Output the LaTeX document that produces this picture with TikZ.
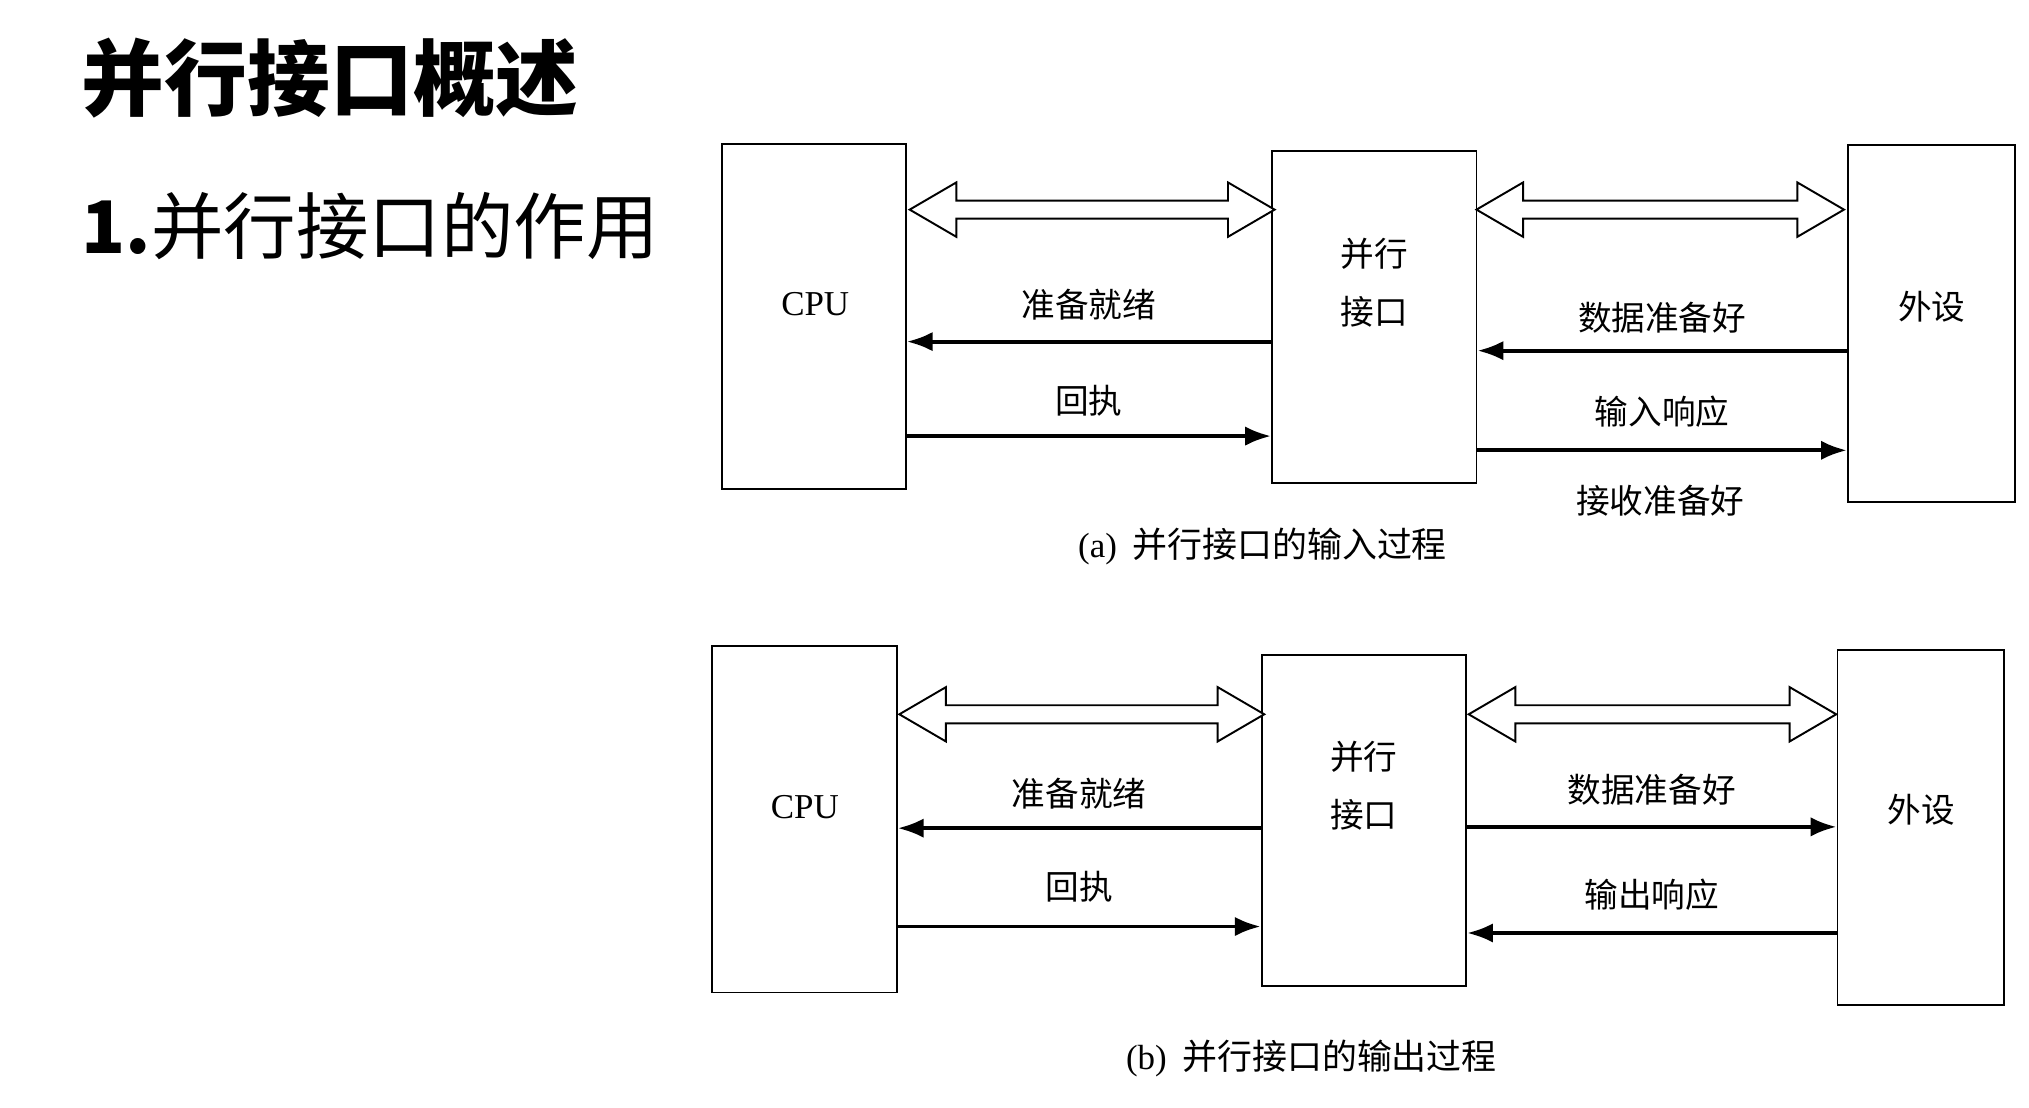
\documentclass[tikz,border=0pt]{standalone}
\usepackage{fontspec}
\setmainfont{Liberation Serif}
\newfontfamily\cjk{Noto Sans CJK SC}
\usetikzlibrary{arrows.meta,positioning}
\begin{document}
\begin{tikzpicture}[x=1pt,y=-1pt,
  box/.style={draw,line width=1.5pt,inner sep=0pt},
  lbl/.style={font=\cjk\fontsize{26}{30}\selectfont,inner sep=0pt},
  sig/.style={line width=3pt,-{Latex[length=20pt,width=15pt]}},
  captxt/.style={font=\fontsize{27}{30}\selectfont,inner sep=0pt}]
\useasboundingbox (0,0) rectangle (1568,856);
% hollow double arrow: x1, x2, y
\newcommand\busarrow[3]{%
  \draw[line width=1.5pt,fill=white] (#1,#3) -- (#1+36,#3-21) -- (#1+36,#3-7) -- (#2-36,#3-7)
    -- (#2-36,#3-21) -- (#2,#3) -- (#2-36,#3+21) -- (#2-36,#3+7) -- (#1+36,#3+7)
    -- (#1+36,#3+21) -- cycle;}
% heading
\node[anchor=west,inner sep=0pt,font=\cjk\bfseries\fontsize{64}{70}\selectfont] (title) at (63,60) {并行接口概述};
\node[anchor=west,inner sep=0pt,font=\cjk\fontsize{56}{62}\selectfont] (sub) at (63,175) {\textbf{1.}并行接口的作用};
% (a) input
\node[box,minimum width=142,minimum height=267] (cpua) at (629,244.5) {};
\node[box,minimum width=158,minimum height=256] (ifa) at (1062,245) {};
\node[box,minimum width=129,minimum height=276] (pera) at (1492.5,250) {};
\node[captxt] at (630,235) {CPU};
\node[lbl] at (1062,196) {并行};
\node[lbl] at (1062,241) {接口};
\node[lbl] at (1493,237) {外设};
\busarrow{703}{985}{162}
\busarrow{1141}{1425}{162}
\draw[sig] (ifa.west |- 0,264) -- (cpua.east |- 0,264) node[lbl,midway,above=15pt] {准备就绪};
\draw[sig] (cpua.east |- 0,337) -- (ifa.west |- 0,337) node[lbl,midway,above=14pt] {回执};
\draw[sig] (pera.west |- 0,271) -- (ifa.east |- 0,271) node[lbl,midway,above=12pt] {数据准备好};
\draw[sig] (ifa.east |- 0,348) -- (pera.west |- 0,348) node[lbl,midway,above=16pt] {输入响应};
\node[lbl] (rdy) at (1283,387) {接收准备好};
\node[captxt,anchor=west] (capa) at (833,422) {(a)\hspace{12pt}{\cjk 并行接口的输入过程}};
% (b) output
\node[box,minimum width=143,minimum height=268] (cpub) at (621.5,633) {};
\node[box,minimum width=158,minimum height=256] (ifb) at (1054,634) {};
\node[box,minimum width=129,minimum height=275] (perb) at (1484.5,639.5) {};
\node[captxt] at (622,624) {CPU};
\node[lbl] at (1054,585) {并行};
\node[lbl] at (1054,630) {接口};
\node[lbl] at (1485,626) {外设};
\busarrow{695}{977}{552}
\busarrow{1135}{1419}{552}
\draw[sig] (ifb.west |- 0,640) -- (cpub.east |- 0,640) node[lbl,midway,above=13pt] {准备就绪};
\draw[sig] (cpub.east |- 0,716) -- (ifb.west |- 0,716) node[lbl,midway,above=17pt] {回执};
\draw[sig] (ifb.east |- 0,639) -- (perb.west |- 0,639) node[lbl,midway,above=15pt] {数据准备好};
\draw[sig] (perb.west |- 0,721) -- (ifb.east |- 0,721) node[lbl,midway,above=16pt] {输出响应};
\node[captxt,anchor=west] (capb) at (870,818) {(b)\hspace{12pt}{\cjk 并行接口的输出过程}};
\end{tikzpicture}
\end{document}
